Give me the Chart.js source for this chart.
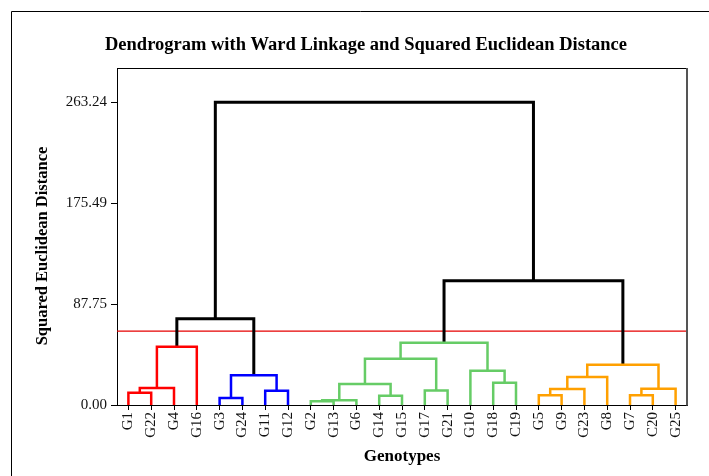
<!DOCTYPE html>
<html>
<head>
<meta charset="utf-8">
<script src="https://cdn.jsdelivr.net/npm/chart.js@4.4.1/dist/chart.umd.min.js"></script>
<style>
  html, body { margin: 0; padding: 0; background: #fff; }
  canvas { display: block; }
</style>
</head>
<body>
<canvas id="dendro" width="709" height="476"></canvas>
<script>
// Leaves, in the order the dendrogram lays them out
const genotypes = ['G1', 'G22', 'G4', 'G16', 'G3', 'G24', 'G11', 'G12',
    'G2', 'G13', 'G6', 'G14', 'G15', 'G17', 'G21', 'G10', 'G18', 'C19',
    'G5', 'G9', 'G23', 'G8', 'G7', 'C20', 'G25'];

// Ward linkage steps: ids < 25 are leaves, 25 + k is the cluster made at step k
const mergeLeft   = [0, 25, 26, 4, 6, 28, 27, 8, 32, 11, 33, 13, 35, 16, 15, 37, 18, 41, 42, 22, 44, 43, 40, 31];
const mergeRight  = [1, 2, 3, 5, 7, 29, 30, 9, 10, 12, 34, 14, 36, 17, 38, 39, 19, 20, 21, 23, 24, 45, 46, 47];
const mergeHeight = [10.7, 14.8, 50.7, 6.1, 12.4, 25.8, 75.0, 3.2, 4.2, 8.1, 18.2, 12.7, 40.2,
    19.4, 29.8, 54.1, 8.4, 13.9, 24.3, 8.4, 14.2, 35.0, 108.0, 263.24];

const yTickValues = [0, 87.75, 175.49, 263.24];
const cutHeight = 64.2;

const chartTitle = 'Dendrogram with Ward Linkage and Squared Euclidean Distance';
const yTitle = 'Squared Euclidean Distance';
const xTitle = 'Genotypes';

const clusterColors = ['#FF0000', '#0000FF', '#66CC66', '#FFA000'];
const serif = '"Liberation Serif", "Times New Roman", serif';

// x of a merge = middle of its two children, y = merge height
const nLeaves = genotypes.length;
const nodeX = genotypes.map((g, i) => i);
const nodeY = genotypes.map(() => 0);
mergeHeight.forEach((h, k) => {
    nodeX.push((nodeX[mergeLeft[k]] + nodeX[mergeRight[k]]) / 2);
    nodeY.push(h);
});

// black above the cut line, one colour per cluster below it
const mergeColor = [];
let clusterCount = 0;
function paint(node, color) {
    if (node < nLeaves) return;
    const k = node - nLeaves;
    if (!color && mergeHeight[k] < cutHeight) color = clusterColors[clusterCount++];
    mergeColor[k] = color || '#000';
    paint(mergeLeft[k], color);
    paint(mergeRight[k], color);
}
paint(nodeX.length - 1, null);

const linkDatasets = mergeHeight.map((h, k) => {
    const a = mergeLeft[k], b = mergeRight[k];
    return {
        data: [
            { x: nodeX[a], y: nodeY[a] },
            { x: nodeX[a], y: h },
            { x: nodeX[b], y: h },
            { x: nodeX[b], y: nodeY[b] }
        ],
        showLine: true,
        borderColor: mergeColor[k],
        borderWidth: mergeColor[k] === '#000' ? 3 : 2.5,
        borderJoinStyle: 'miter',
        pointRadius: 0,
        order: 0
    };
});

const cutDataset = {
    data: [{ x: -0.5, y: cutHeight }, { x: nLeaves - 0.5, y: cutHeight }],
    showLine: true,
    borderColor: 'rgb(230, 0, 0)',
    borderWidth: 1.2,
    pointRadius: 0,
    order: 1
};

// frame, plot box and titles
const framePlugin = {
    id: 'frame',
    afterDraw(chart) {
        const { ctx, chartArea: { left, top, right, bottom } } = chart;
        ctx.save();
        ctx.strokeStyle = '#000';
        ctx.lineWidth = 1;
        ctx.beginPath();
        ctx.moveTo(11.5, chart.height);
        ctx.lineTo(11.5, 11.5);
        ctx.lineTo(chart.width, 11.5);
        ctx.stroke();

        ctx.beginPath();
        ctx.moveTo(left, top + 0.5);
        ctx.lineTo(right, top + 0.5);
        ctx.stroke();
        ctx.strokeStyle = '#555';
        ctx.lineWidth = 2;
        ctx.beginPath();
        ctx.moveTo(right, top);
        ctx.lineTo(right, bottom + 0.5);
        ctx.stroke();

        ctx.fillStyle = '#000';
        ctx.textAlign = 'center';
        ctx.textBaseline = 'middle';
        ctx.font = 'bold 18.5px ' + serif;
        ctx.fillText(chartTitle, 366, 45);
        ctx.translate(43, 246);
        ctx.rotate(-Math.PI / 2);
        ctx.font = 'bold 16.5px ' + serif;
        ctx.fillText(yTitle, 0, 0);
        ctx.restore();
    }
};

new Chart(document.getElementById('dendro'), {
    type: 'scatter',
    data: { datasets: [cutDataset, ...linkDatasets] },
    options: {
        responsive: false,
        animation: false,
        events: [],
        layout: { padding: { top: 68, right: 22, left: 0, bottom: 0 } },
        plugins: {
            legend: { display: false },
            title: { display: false },
            tooltip: { enabled: false }
        },
        scales: {
            x: {
                type: 'linear',
                min: -0.5,
                max: nLeaves - 0.5,
                afterFit: s => { s.height = 71; },
                afterBuildTicks: s => { s.ticks = genotypes.map((g, i) => ({ value: i })); },
                grid: { drawOnChartArea: false, tickLength: 5, color: '#000' },
                border: { color: '#000', width: 1 },
                ticks: {
                    autoSkip: false,
                    maxRotation: 90,
                    minRotation: 90,
                    padding: 2,
                    color: '#111',
                    font: { family: serif, size: 15 },
                    callback: v => genotypes[v]
                },
                title: {
                    display: true,
                    text: xTitle,
                    color: '#000',
                    font: { family: serif, size: 17, weight: 'bold' },
                    padding: { top: 0, bottom: 9 }
                }
            },
            y: {
                min: 0,
                max: 293,
                afterFit: s => { s.width = 117; },
                afterBuildTicks: s => { s.ticks = yTickValues.map(v => ({ value: v })); },
                grid: { drawOnChartArea: false, tickLength: 6, color: '#000' },
                border: { color: '#000', width: 1 },
                ticks: {
                    padding: 4,
                    color: '#111',
                    font: { family: serif, size: 15 },
                    callback: v => v.toFixed(2)
                }
            }
        }
    },
    plugins: [framePlugin]
});
</script>
</body>
</html>
